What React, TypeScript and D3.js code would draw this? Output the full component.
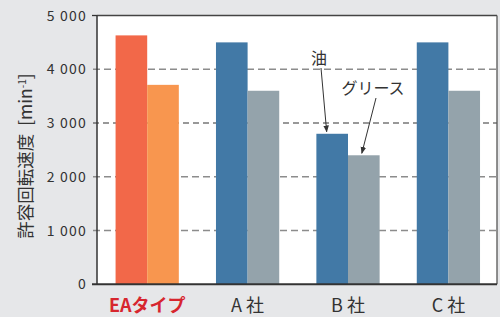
import React from "react";
import * as d3 from "d3";

const categories = ["EAタイプ", "A 社", "B 社", "C 社"];
const oilValues = [4630, 4500, 2800, 4500];
const greaseValues = [3710, 3600, 2400, 3600];
const yTicks = [0, 1000, 2000, 3000, 4000, 5000];
const yTickLabels = ["0", "1 000", "2 000", "3 000", "4 000", "5 000"];

const W = 500, H = 317;
const left = 97, right = 497, top = 15.5, bottom = 284.3;
const font = "'Noto Sans CJK JP', 'Noto Sans', sans-serif";

export default function App() {
  const x0 = d3.scaleBand<string>().domain(categories).range([left, 498.6]).paddingInner(0.37).paddingOuter(0.185);
  const x1 = d3.scaleBand<string>().domain(["oil", "grease"]).range([0, x0.bandwidth()]);
  const y = d3.scaleLinear().domain([0, 5000]).range([bottom, top]);
  const oilColors = ["#F26849", "#4279A6", "#4279A6", "#4279A6"];
  const greaseColors = ["#F8964F", "#94A3AB", "#94A3AB", "#94A3AB"];

  const bOil = x0("B 社")! + x1("oil")! + x1.bandwidth() / 2;
  const bGrease = x0("B 社")! + x1("grease")! + x1.bandwidth() / 2;

  return (
    <svg width={W} height={H} style={{ position: "absolute", left: 0, top: 0, display: "block" }}>
      <defs>
        <marker id="ah" viewBox="0 0 10 10" refX="9" refY="5" markerWidth="7" markerHeight="7" orient="auto" markerUnits="userSpaceOnUse">
          <path d="M0,1 L10,5 L0,9 Z" fill="#333" />
        </marker>
      </defs>
      <rect x={0} y={0} width={W} height={H} fill="#E6E7E9" />
      <rect x={left} y={top} width={right - left} height={bottom - top} fill="#fff" />
      {yTicks.filter(t => t > 0 && t < 5000).map(t => (
        <line key={t} x1={left - 4} x2={right} y1={y(t)} y2={y(t)}
          stroke={t === 3000 ? "#333" : "#8C8C8C"} strokeWidth={t === 3000 ? 1.2 : 1.6}
          strokeDasharray={t === 3000 ? "6,4" : "7,4"} />
      ))}
      {categories.map((c, i) => (
        <g key={c}>
          <rect x={x0(c)! + x1("oil")!} y={y(oilValues[i])} width={x1.bandwidth()} height={bottom - y(oilValues[i])} fill={oilColors[i]} />
          <rect x={x0(c)! + x1("grease")!} y={y(greaseValues[i])} width={x1.bandwidth()} height={bottom - y(greaseValues[i])} fill={greaseColors[i]} />
        </g>
      ))}
      <line x1={left} x2={right} y1={top} y2={top} stroke="#444" strokeWidth={1.3} />
      <line x1={right} x2={right} y1={top} y2={bottom} stroke="#555" strokeWidth={1.3} />
      <line x1={left} x2={left} y1={top} y2={bottom} stroke="#333" strokeWidth={1.5} />
      <line x1={left - 5} x2={right} y1={bottom} y2={bottom} stroke="#333" strokeWidth={2} />
      <line x1={left - 5} x2={left} y1={top} y2={top} stroke="#333" strokeWidth={1.3} />
      {yTicks.map((t, i) => (
        <text key={t} x={87} y={y(t)} dy="0.36em" textAnchor="end" fontFamily={font} fontSize={14} letterSpacing={1.2} fill="#333">{yTickLabels[i]}</text>
      ))}
      {categories.map((c, i) => (
        <text key={c} x={x0(c)! + x0.bandwidth() / 2} y={312} textAnchor="middle" fontFamily={font}
          fontSize={18} fontWeight={i === 0 ? 700 : 400} fill={i === 0 ? "#D7262E" : "#333"}>{c}</text>
      ))}
      <text transform={`translate(32,${156}) rotate(-90)`} textAnchor="middle" fontFamily={font} fontSize={17.5} fill="#333">
        {"許容回転速度\u00A0 [min"}<tspan dy="-6" fontSize={10}>-1</tspan><tspan dy="6">]</tspan>
      </text>
      <text x={319} y={64} textAnchor="middle" fontFamily={font} fontSize={16} fill="#333">油</text>
      <line x1={321} y1={68} x2={bOil - 5.5} y2={y(oilValues[2]) - 2} stroke="#333" strokeWidth={1} markerEnd="url(#ah)" />
      <text x={373} y={94} textAnchor="middle" fontFamily={font} fontSize={16} fill="#333">グリース</text>
      <line x1={376} y1={98} x2={bGrease - 2} y2={y(greaseValues[2]) - 2} stroke="#333" strokeWidth={1} markerEnd="url(#ah)" />
    </svg>
  );
}
